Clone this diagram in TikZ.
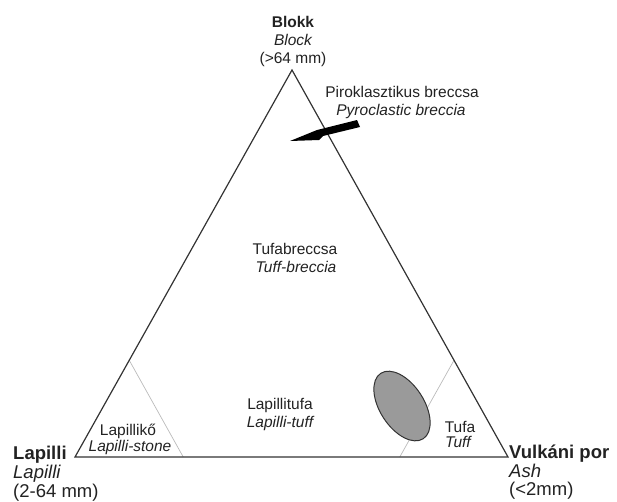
\documentclass[tikz,border=0pt]{standalone}
\usepackage{fontspec}
\setmainfont{Liberation Sans}
\usetikzlibrary{calc}
\definecolor{edgecol}{HTML}{333333}
\definecolor{thincol}{HTML}{BBBBBB}
\definecolor{blobfill}{HTML}{9A9A9A}
\definecolor{txtcol}{HTML}{222222}
\tikzset{
  small/.style={anchor=base, inner sep=0pt, text=txtcol, font=\fontsize{15.5}{18}\selectfont},
  smallit/.style={small, font=\fontsize{15.5}{18}\selectfont\itshape},
  smallbf/.style={small, font=\fontsize{15.5}{18}\selectfont\bfseries},
  big/.style={anchor=base west, inner sep=0pt, text=txtcol, font=\fontsize{18.5}{22}\selectfont},
  bigit/.style={big, font=\fontsize{18.5}{22}\selectfont\itshape},
  bigbf/.style={big, font=\fontsize{18.5}{22}\selectfont\bfseries},
  edge/.style={draw=edgecol, line width=1.2pt, line join=miter},
  thin/.style={draw=thincol, line width=0.7pt},
}
\begin{document}
\begin{tikzpicture}[x=1pt, y=-1pt]
\useasboundingbox (0,0) rectangle (617,501);
% vertices
\coordinate (L) at (75,457);
\coordinate (R) at (508,457);
\coordinate (T) at (292,70);
% inner lines
\draw[thin] ($(L)!0.25!(T)$) -- ($(L)!0.25!(R)$);
\draw[thin] ($(R)!0.25!(T)$) -- ($(R)!0.25!(L)$);
% field of samples
\draw[draw=edgecol, line width=1pt, fill=blobfill, shift={(402,406)}, rotate=-57] (0,0) ellipse [x radius=39, y radius=22];
% triangle
\draw[edge] (L) -- (T) -- (R) -- cycle;
% arrow
\fill[black] (290,141) -- (317,130) -- (357,120) -- (360,127) -- (323,136) -- (319,140) -- cycle;
% labels
\node[smallbf] (blokk) at (293,27) {Blokk};
\node[smallit] (block) at (293,45) {Block};
\node[small] (blokkmm) at (293,63) {(>64 mm)};
\node[small] (piro) at (402,97) {Piroklasztikus breccsa};
\node[smallit] (pyro) at (401,115) {Pyroclastic breccia};
\node[small] (tufabr) at (295,254) {Tufabreccsa};
\node[smallit] (tuffbr) at (296,272) {Tuff-breccia};
\node[small] (laptufa) at (280,409) {Lapillitufa};
\node[smallit] (laptuff) at (280,427) {Lapilli-tuff};
\node[small] (lapko) at (128,435) {Lapillikő};
\node[smallit] (lapstone) at (130,451) {Lapilli-stone};
\node[small] (tufa) at (460,432) {Tufa};
\node[smallit] (tuff) at (458,447) {Tuff};
\node[bigbf] (lap1) at (13,459) {Lapilli};
\node[bigit] (lap2) at (13,478) {Lapilli};
\node[big] (lap3) at (13,497) {(2-64 mm)};
\node[bigbf] (vul1) at (509,458) {Vulkáni por};
\node[bigit] (vul2) at (509,477) {Ash};
\node[big] (vul3) at (509,495) {(<2mm)};
\end{tikzpicture}
\end{document}
